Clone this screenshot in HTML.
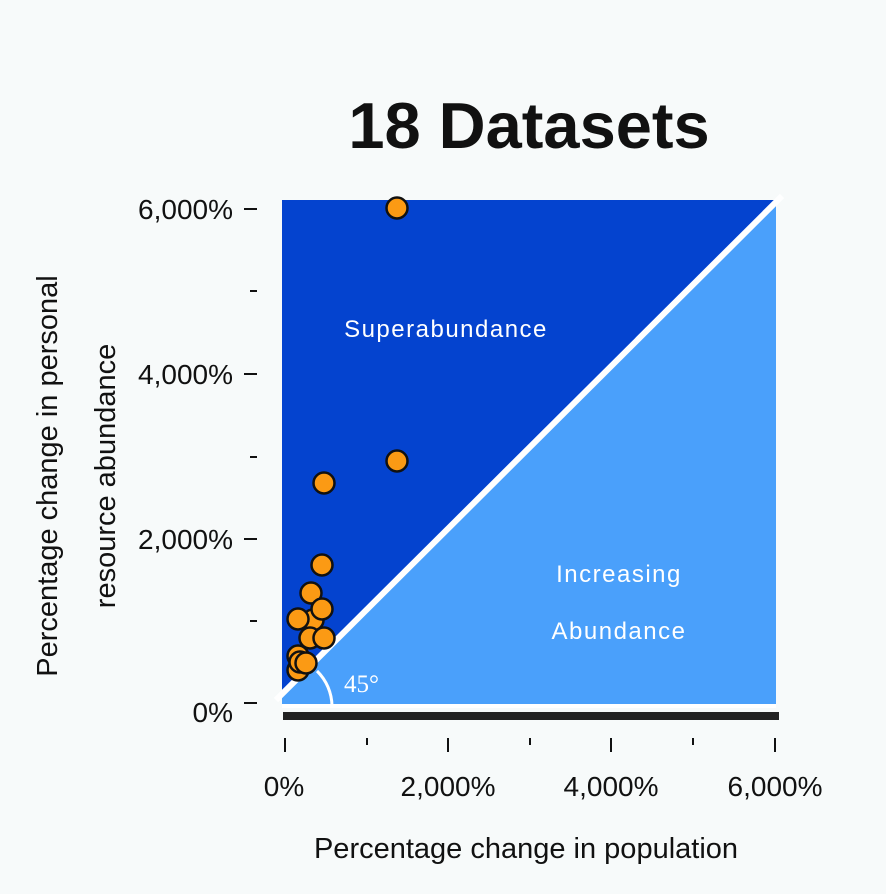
<!DOCTYPE html>
<html><head><meta charset="utf-8"><style>
body{margin:0;background:#f7fafa;}
svg{display:block;font-family:"Liberation Sans",Arial,sans-serif;}
</style></head><body>
<svg width="886" height="894" viewBox="0 0 886 894">
<rect width="886" height="894" fill="#f7fafa"/>
<text x="529" y="148" font-size="65" font-weight="bold" text-anchor="middle" fill="#111">18 Datasets</text>
<polygon points="282,200 776,200 776,706 282,706" fill="#4aa0fb"/>
<polygon points="282,200 776,200 282,692" fill="#0443cf"/>
<line x1="276" y1="700" x2="782" y2="196" stroke="#fff" stroke-width="6"/>
<rect x="282" y="704" width="494" height="4" fill="#fff"/>
<path d="M 317 671 A 50 50 0 0 1 332 706" fill="none" stroke="#fff" stroke-width="3"/>
<text x="344" y="692" font-family="Liberation Serif,serif" font-size="25" fill="#fff">45°</text>
<rect x="283" y="712" width="496" height="8" fill="#222"/>
<text x="446" y="337" font-size="24" fill="#fff" text-anchor="middle" letter-spacing="1.5">Superabundance</text>
<text x="619" y="582" font-size="24" fill="#fff" text-anchor="middle" letter-spacing="1.5">Increasing</text>
<text x="619" y="639" font-size="24" fill="#fff" text-anchor="middle" letter-spacing="1.5">Abundance</text>
<g stroke="#111" stroke-width="2">
<line x1="244" y1="209" x2="257" y2="209"/><line x1="250" y1="291" x2="257" y2="291"/>
<line x1="244" y1="374" x2="257" y2="374"/><line x1="250" y1="457" x2="257" y2="457"/>
<line x1="244" y1="539" x2="257" y2="539"/><line x1="250" y1="621" x2="257" y2="621"/>
<line x1="244" y1="703" x2="257" y2="703"/>
<line x1="285" y1="738" x2="285" y2="752"/><line x1="367" y1="738" x2="367" y2="745"/>
<line x1="448" y1="738" x2="448" y2="752"/><line x1="530" y1="738" x2="530" y2="745"/>
<line x1="611" y1="738" x2="611" y2="752"/><line x1="693" y1="738" x2="693" y2="745"/>
<line x1="775" y1="738" x2="775" y2="752"/>
</g>
<g font-size="28" fill="#111" text-anchor="end">
<text x="233" y="219">6,000%</text><text x="233" y="384">4,000%</text>
<text x="233" y="549">2,000%</text><text x="233" y="722">0%</text>
</g>
<g font-size="28" fill="#111" text-anchor="middle">
<text x="284" y="796">0%</text><text x="448" y="796">2,000%</text>
<text x="611" y="796">4,000%</text><text x="775" y="796">6,000%</text>
</g>
<text x="526" y="858" font-size="29" fill="#111" text-anchor="middle">Percentage change in population</text>
<text transform="translate(57,476) rotate(-90)" font-size="29" fill="#111" text-anchor="middle">Percentage change in personal</text>
<text transform="translate(115,476) rotate(-90)" font-size="29" fill="#111" text-anchor="middle">resource abundance</text>
<g fill="#fb9a14" stroke="#111" stroke-width="2.5">
<circle cx="397" cy="208" r="10.5"/><circle cx="397" cy="461" r="10.5"/><circle cx="324" cy="483" r="10.5"/>
<circle cx="322" cy="565" r="10.5"/><circle cx="311" cy="593" r="10.5"/><circle cx="313" cy="620" r="10.5"/>
<circle cx="322" cy="609" r="10.5"/><circle cx="298" cy="619" r="10.5"/><circle cx="310" cy="638" r="10.5"/>
<circle cx="324" cy="638" r="10.5"/><circle cx="298" cy="656" r="10.5"/><circle cx="298" cy="670" r="10.5"/>
<circle cx="300" cy="662" r="10.5"/><circle cx="306" cy="663" r="10.5"/>
</g>
</svg>
</body></html>
